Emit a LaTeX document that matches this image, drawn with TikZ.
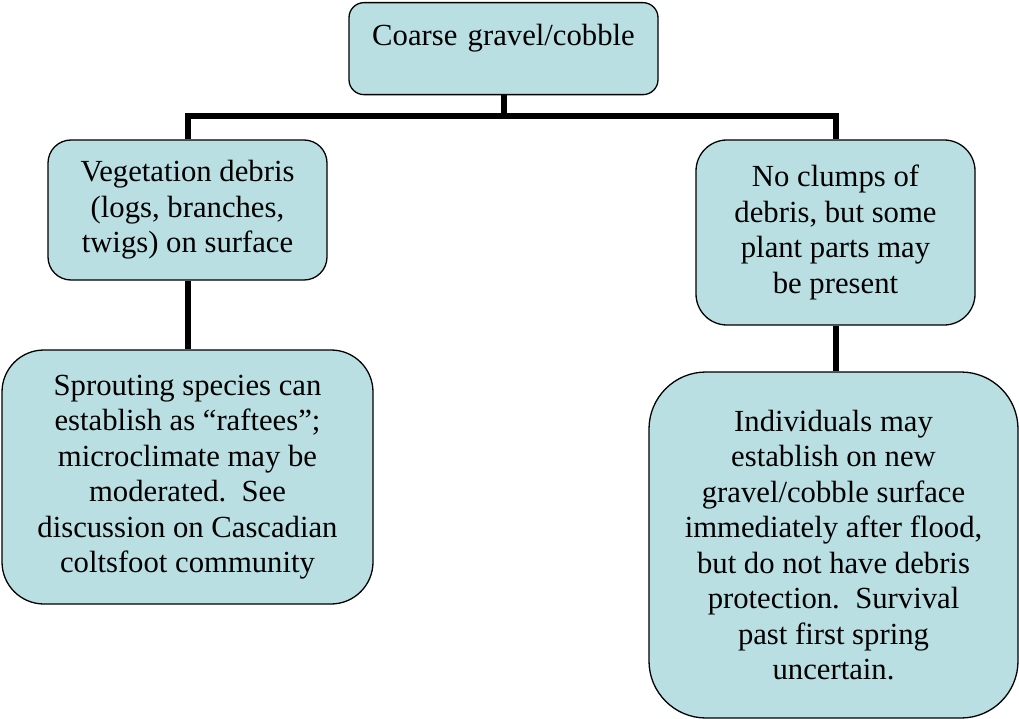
\documentclass[tikz,border=0pt]{standalone}
\usepackage{fontspec}
\setmainfont{Liberation Serif}
\definecolor{boxfill}{RGB}{185,223,227}
\begin{document}
\begin{tikzpicture}[x=1pt,y=-1pt,
  box/.style={draw=black, line width=1.3pt, fill=boxfill, rectangle, inner sep=0pt,
    align=center, font=\fontsize{30.7}{35.5}\selectfont},
  conn/.style={draw=black, line width=6pt, line join=miter}]
\useasboundingbox (0,0) rectangle (1019,719);
\node[box, rounded corners=15pt, text width=309pt, text height=43pt, text depth=49pt, anchor=north] (top) at (503.5,2) {Coarse gravel/cobble};
\node[box, rounded corners=23pt, minimum width=279pt, minimum height=140pt] (lmid) at (187.5,210) {Vegetation debris\\(logs, branches,\\twigs) on surface};
\node[box, rounded corners=42pt, minimum width=371pt, minimum height=254pt] (lbot) at (187.5,477) {Sprouting species can\\establish as “raftees”;\\microclimate may be\\moderated.\ \ See\\discussion on Cascadian\\coltsfoot community};
\node[box, rounded corners=31pt, minimum width=279pt, minimum height=185pt] (rmid) at (835.5,232.5) {No clumps of\\debris, but some\\plant parts may\\be present};
\node[box, rounded corners=57pt, minimum width=369pt, minimum height=346pt] (rbot) at (833.5,545) {Individuals may\\establish on new\\gravel/cobble surface\\immediately after flood,\\but do not have debris\\protection.\ \ Survival\\past first spring\\uncertain.};
\coordinate (j) at (top.south |- 0,116);
\draw[conn] (top.south) -- (j);
\draw[conn] (lmid.north) |- (j) -| (rmid.north);
\draw[conn] (lmid.south) -- (lbot.north);
\draw[conn] (rmid.south) -- (rmid.south |- rbot.north);
\end{tikzpicture}
\end{document}
